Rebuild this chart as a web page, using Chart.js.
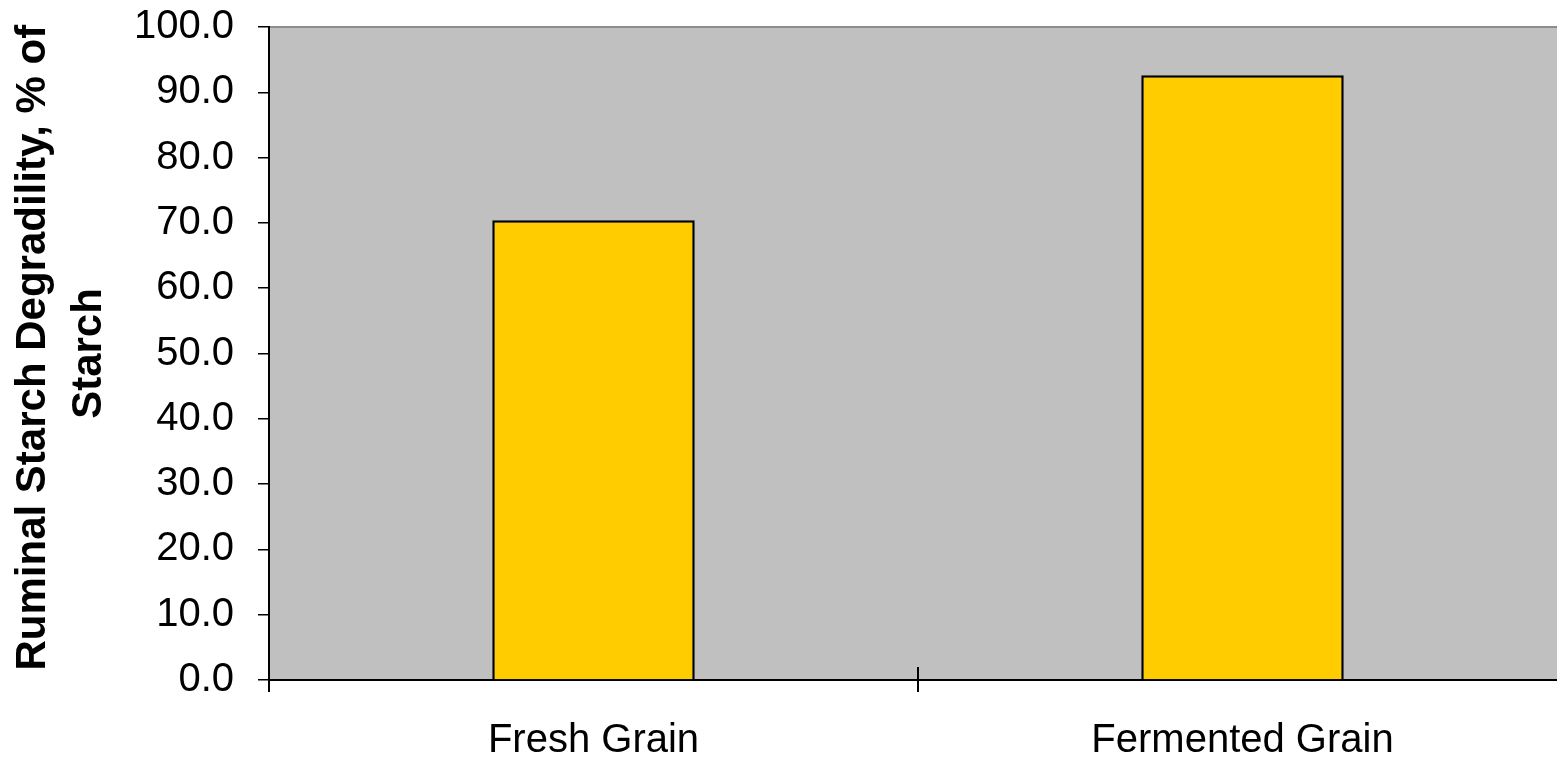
<!DOCTYPE html>
<html>
<head>
<meta charset="utf-8">
<script src="https://cdn.jsdelivr.net/npm/chart.js@4/dist/chart.umd.min.js"></script>
<style>
  html, body { margin: 0; padding: 0; background: #fff; overflow: hidden; }
  #wrap { width: 1567px; height: 759px; }
</style>
</head>
<body>
<div id="wrap"><canvas id="c" width="1567" height="759"></canvas></div>
<script>
const categories = ['Fresh Grain', 'Fermented Grain'];
const values = [70.4, 92.6];
const yTitle = [' Ruminal Starch Degradility, % of', 'Starch'];
const yMin = 0, yMax = 100, yStep = 10;

const FONT = "'Liberation Sans', Arial, sans-serif";

const plotBg = {
  id: 'plotBg',
  beforeDraw(chart) {
    const { ctx, chartArea: a } = chart;
    ctx.save();
    ctx.fillStyle = '#C0C0C0';
    ctx.fillRect(a.left, a.top, a.right - a.left, a.bottom - a.top);
    ctx.strokeStyle = '#8c8c8c';
    ctx.lineWidth = 2;
    ctx.beginPath();
    ctx.moveTo(a.left, a.top);
    ctx.lineTo(a.right, a.top);
    ctx.stroke();
    ctx.restore();
  },
  afterDraw(chart) {
    const { ctx, chartArea: a } = chart;
    const xs = chart.scales.x;
    ctx.save();
    ctx.strokeStyle = '#000';
    ctx.lineWidth = 2;
    for (let i = 0; i <= categories.length; i++) {
      const px = Math.round(xs.getPixelForValue(i - 0.5));
      ctx.beginPath();
      ctx.moveTo(px, a.bottom);
      ctx.lineTo(px, a.bottom - 13);
      ctx.stroke();
    }
    ctx.restore();
  }
};

new Chart(document.getElementById('c'), {
  type: 'bar',
  data: {
    labels: categories,
    datasets: [{
      data: values,
      backgroundColor: '#FFCC00',
      borderColor: '#000',
      borderWidth: 2.5,
      barPercentage: 0.312,
      categoryPercentage: 1.0
    }]
  },
  options: {
    responsive: false,
    animation: false,
    devicePixelRatio: 1,
    layout: { padding: { top: 27, right: 0, bottom: 0, left: 0 } },
    plugins: { legend: { display: false }, tooltip: { enabled: false } },
    scales: {
      x: {
        afterFit(scale) { scale.height = 79; },
        grid: {
          offset: true,
          drawOnChartArea: false,
          drawTicks: true,
          tickLength: 12,
          color: '#000',
          lineWidth: 2
        },
        border: { display: true, color: '#000', width: 2 },
        ticks: {
          color: '#000',
          padding: 25,
          font: { family: FONT, size: 40 },
          maxRotation: 0
        }
      },
      y: {
        min: yMin,
        max: yMax,
        afterFit(scale) {
          scale.width = 269;
          scale.paddingTop = 20;
          scale.paddingBottom = 0;
        },
        grid: {
          drawOnChartArea: false,
          drawTicks: true,
          tickLength: 11,
          color: '#000',
          lineWidth: 1.5
        },
        border: { display: true, color: '#000', width: 2 },
        ticks: {
          stepSize: yStep,
          color: '#000',
          padding: 24,
          font: { family: FONT, size: 40 },
          callback: v => Number(v).toFixed(1)
        },
        title: {
          display: true,
          text: yTitle,
          color: '#000',
          padding: { top: 6, bottom: 0 },
          font: { family: FONT, size: 42, weight: 'bold', lineHeight: 1.32 }
        }
      }
    }
  },
  plugins: [plotBg]
});
</script>
</body>
</html>
